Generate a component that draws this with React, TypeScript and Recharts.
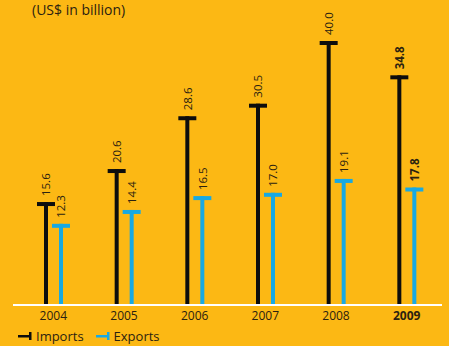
import { BarChart, Bar, XAxis, YAxis, Legend, LabelList } from 'recharts';

const years = ['2004', '2005', '2006', '2007', '2008', '2009'];
const imports = [15.6, 20.6, 28.6, 30.5, 40.0, 34.8];
const exports = [12.3, 14.4, 16.5, 17.0, 19.1, 17.8];

const data = years.map((year, i) => ({ year, imports: imports[i], exports: exports[i] }));

const BG = '#FCB814';
const INK = '#2b2210';
const BLACK = '#0d0d0d';
const BLUE = '#18A9E2';
const FONT = '"Open Sans", sans-serif';
const LAST = years.length - 1;

// thin stem with a T cap on top
const StemShape = (props: any) => {
  const { x, y, width, height, fill } = props;
  if (height == null || height <= 0) return null;
  const cx = x + width / 2;
  return (
    <g>
      <rect x={x} y={y} width={width} height={height} fill={fill} />
      <rect x={cx - 9} y={y} width={18} height={4} fill={fill} />
    </g>
  );
};

const ValueLabel = (props: any) => {
  const { x, y, width, value, index } = props;
  const cx = x + width / 2;
  const ty = y - 6;
  return (
    <text
      x={cx}
      y={ty}
      transform={`rotate(-90, ${cx}, ${ty})`}
      textAnchor='start'
      dominantBaseline='central'
      fontSize={11.5}
      fontFamily={FONT}
      fontWeight={index === LAST ? 700 : 400}
      fill={INK}
    >
      {Number(value).toFixed(1)}
    </text>
  );
};

const YearTick = (props: any) => {
  const { x, y, payload, index } = props;
  return (
    <text
      x={x}
      y={y}
      dy={7}
      textAnchor='middle'
      fontSize={12}
      fontFamily={FONT}
      fontWeight={index === LAST ? 700 : 400}
      fill={INK}
    >
      {payload.value}
    </text>
  );
};

const LegendContent = () => {
  const items = [
    { label: 'Imports', color: BLACK },
    { label: 'Exports', color: BLUE },
  ];
  return (
    <div style={{ display: 'flex', height: 21, alignItems: 'center', paddingLeft: 5 }}>
      {items.map((it) => (
        <div key={it.label} style={{ display: 'flex', alignItems: 'center', marginRight: 12 }}>
          <svg width={14} height={10} style={{ marginRight: 4 }}>
            <rect x={0} y={4} width={13} height={2.5} fill={it.color} />
            <rect x={11} y={1} width={2.5} height={8} fill={it.color} />
          </svg>
          <span style={{ fontFamily: FONT, fontSize: 13, color: INK }}>{it.label}</span>
        </div>
      ))}
    </div>
  );
};

export default function App() {
  return (
    <div style={{ position: 'absolute', top: 0, left: 0, width: 449, height: 346, background: BG }}>
      <div
        style={{
          position: 'absolute',
          top: 0,
          left: 32,
          fontFamily: FONT,
          fontSize: 14,
          lineHeight: 'normal',
          color: INK,
        }}
      >
        (US$ in billion)
      </div>
      <BarChart
        width={449}
        height={346}
        data={data}
        margin={{ top: 41, right: 7, bottom: 0, left: 13 }}
        barSize={4}
        barGap={11}
      >
        <XAxis
          dataKey='year'
          axisLine={{ stroke: '#ffffff', strokeWidth: 2 }}
          tickLine={false}
          tick={<YearTick />}
          height={20}
          padding={{ left: 5, right: 0 }}
          interval={0}
        />
        <YAxis hide domain={[0, 40]} />
        <Legend verticalAlign='bottom' align='left' content={<LegendContent />} />
        <Bar dataKey='imports' name='Imports' fill={BLACK} shape={<StemShape />} isAnimationActive={false}>
          <LabelList dataKey='imports' content={<ValueLabel />} />
        </Bar>
        <Bar dataKey='exports' name='Exports' fill={BLUE} shape={<StemShape />} isAnimationActive={false}>
          <LabelList dataKey='exports' content={<ValueLabel />} />
        </Bar>
      </BarChart>
    </div>
  );
}
